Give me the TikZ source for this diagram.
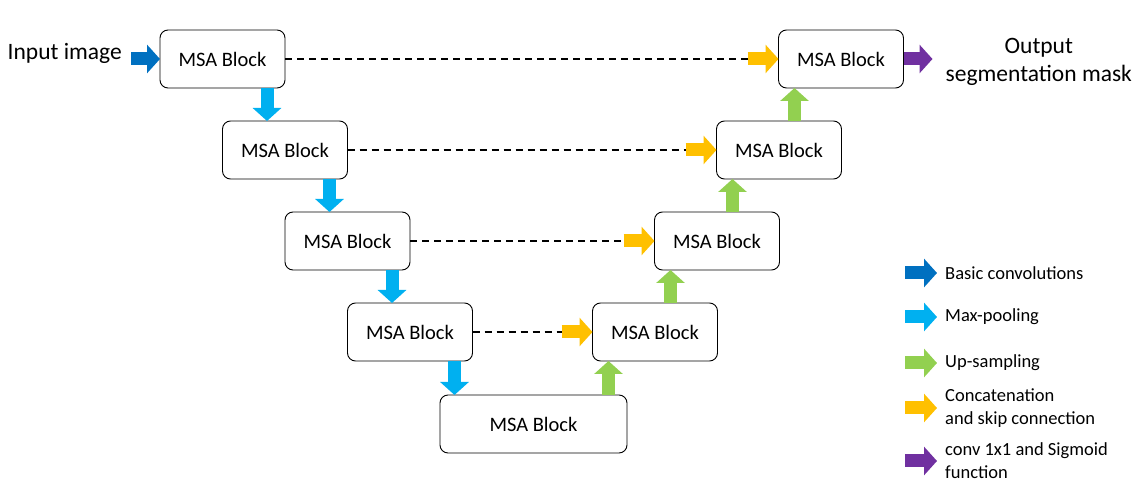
\documentclass[tikz,border=0pt]{standalone}
\usepackage{fontspec}
\setmainfont{Carlito}
\usetikzlibrary{%
    arrows.meta,
    calc,
    positioning
}
\definecolor{convblue}{HTML}{0070C0}
\definecolor{poolblue}{HTML}{00B0F0}
\definecolor{upgreen}{HTML}{92D050}
\definecolor{catyellow}{HTML}{FFC000}
\definecolor{sigpurple}{HTML}{7030A0}
\tikzset{msa/.style = {draw, line width=.9pt, rounded corners=8pt, outer sep=0pt,
                       minimum width=125pt, minimum height=58pt,
                       font=\fontsize{20.5}{24}\selectfont}}
\tikzset{fatarrow/.style = {draw=#1, line width=13pt,
                            -{Triangle[width=28pt,length=13pt]}}}
\tikzset{skipline/.style = {line width=1.6pt, dash pattern=on 7pt off 5pt}}

\begin{document}
\begin{tikzpicture}[x=1pt,y=1pt]
    \useasboundingbox (0,0) rectangle (1144,-502);

    \node[msa] (l-1) at (222.5,-59) {MSA Block};
    \foreach \x [remember=\x as \lastx (initially 1)] in {2,3,4}
        \node[msa] (l-\x) [below right=33pt and -62.5pt of l-\lastx] {MSA Block};
    \node[msa, minimum width=187pt] (b) [below right=34pt and -32.5pt of l-4] {MSA Block};
    \node[msa] (r-4) [right=120pt of l-4] {MSA Block};
    \foreach \x [remember=\x as \lastx (initially 4)] in {3,2,1}
        \node[msa] (r-\x) [above right=33pt and -63pt of r-\lastx] {MSA Block};

    % down and up
    \foreach \x [remember=\x as \lastx (initially 1)] in {2,3,4}
        \draw[fatarrow=poolblue] ([xshift=-18pt]l-\lastx.south east)
            -- ([xshift=-18pt]l-\lastx.south east |- l-\x.north);
    \draw[fatarrow=poolblue] ([xshift=-18pt]l-4.south east)
        -- ([xshift=-18pt]l-4.south east |- b.north);
    \draw[fatarrow=upgreen] ([xshift=16pt]r-4.south west |- b.north)
        -- ([xshift=16pt]r-4.south west);
    \foreach \x [remember=\x as \lastx (initially 4)] in {3,2,1}
        \draw[fatarrow=upgreen] ([xshift=16pt]r-\x.south west |- r-\lastx.north)
            -- ([xshift=16pt]r-\x.south west);

    % skip connections
    \foreach \x in {1,2,3,4} {
        \coordinate (s-\x) at ([xshift=-31pt]r-\x.west);
        \draw[skipline] (l-\x) -- (s-\x);
        \draw[fatarrow=catyellow] (s-\x) -- (r-\x);
    }

    % in and out
    \coordinate (in-tail) at ([xshift=-29pt]l-1.west);
    \draw[fatarrow=convblue] (in-tail) -- (l-1);
    \node[anchor=base east, inner sep=0, font=\fontsize{23.5}{28}\selectfont]
        (in-label) at ([xshift=-9pt,yshift=-1pt]in-tail) {Input image};
    \coordinate (out-head) at ([xshift=29pt]r-1.east);
    \draw[fatarrow=sigpurple] (r-1) -- (out-head);
    \node[right=13pt of out-head, yshift=-3pt, inner sep=0, align=center,
          font=\fontsize{23.5}{28}\selectfont] (out-label)
        {Output\\segmentation mask};

    % legend
    \foreach \col/\txt/\y [count=\i] in {convblue/{Basic convolutions}/273,
            poolblue/{Max-pooling}/317, upgreen/{Up-sampling}/363,
            catyellow/{Concatenation\\and skip connection}/408,
            sigpurple/{conv 1x1 and Sigmoid\\function}/461} {
        \coordinate (key-\i) at (905,-\y);
        \draw[fatarrow=\col] (key-\i) -- ++(32,0);
        \node[anchor=west, inner sep=0, align=left,
              font=\fontsize{18.5}{23}\selectfont] (key-txt-\i)
            at ([xshift=40pt]key-\i) {\txt};
    }
\end{tikzpicture}
\end{document}
